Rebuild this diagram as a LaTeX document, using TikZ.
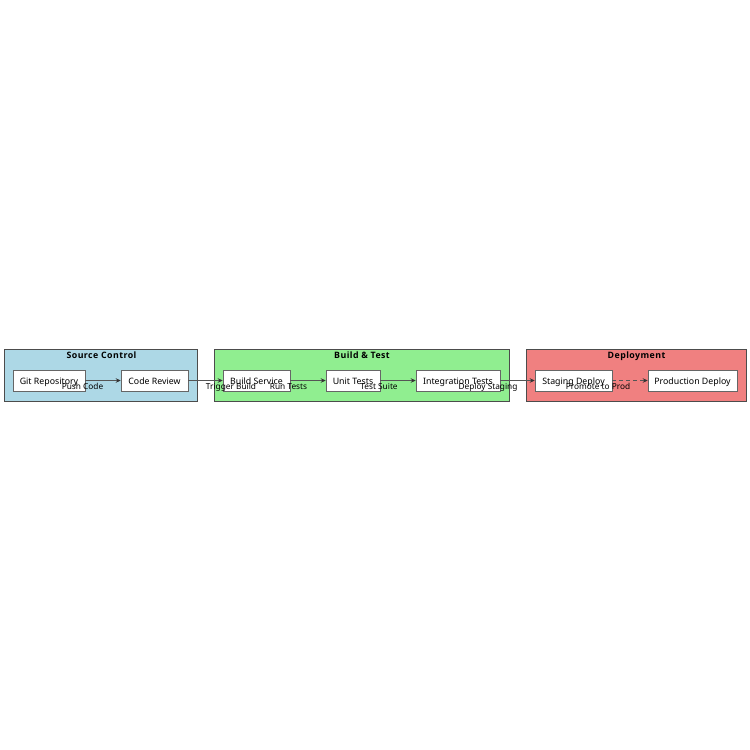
\documentclass[tikz,border=0pt]{standalone}
\usepackage{fontspec}
\setmainfont{Noto Sans}
\newfontfamily\titlefont[LetterSpace=5]{Open Sans}
\usetikzlibrary{arrows.meta}
\definecolor{scfill}{HTML}{ADD8E6}
\definecolor{btfill}{HTML}{90EE90}
\definecolor{dpfill}{HTML}{F08080}
\definecolor{edgec}{HTML}{555555}
\begin{document}
\begin{tikzpicture}[x=1pt,y=-1pt,
  cluster/.style={draw=black!70,line width=0.6pt},
  ctitle/.style={font=\titlefont\bfseries\fontsize{8.8}{10}\selectfont,inner sep=0pt},
  proc/.style={draw=black!60,fill=white,line width=0.5pt,minimum height=21pt,inner sep=0pt},
  ptext/.style={font=\fontsize{8.8}{10}\selectfont,inner sep=0pt,anchor=base},
  elabel/.style={font=\fontsize{8.3}{9}\selectfont,inner sep=0pt,anchor=base},
  conn/.style={draw=edgec,line width=0.8pt,-{Stealth[length=5pt,width=4.5pt,black!80]}}]
\useasboundingbox (0,0) rectangle (750,750);
\fill[white] (0,0) rectangle (750,750);
% clusters
\draw[cluster,fill=scfill] (4,349) rectangle (197,401);
\draw[cluster,fill=btfill] (214,349) rectangle (509,401);
\draw[cluster,fill=dpfill] (526,349) rectangle (746,401);
\node[ctitle,anchor=base] (tsc) at (101.5,358) {Source Control};
\node[ctitle,anchor=base] (tbt) at (362,358) {Build \& Test};
\node[ctitle,anchor=base] (tdp) at (636.5,358) {Deployment};
% nodes
\node[proc,minimum width=72pt] (git) at (49,380.5) {};
\node[proc,minimum width=67pt] (cr) at (154.5,380.5) {};
\node[proc,minimum width=67pt] (bs) at (256.5,380.5) {};
\node[proc,minimum width=54pt] (ut) at (353,380.5) {};
\node[proc,minimum width=84pt] (it) at (458,380.5) {};
\node[proc,minimum width=77pt] (sd) at (573.5,380.5) {};
\node[proc,minimum width=89pt] (pd) at (692.5,380.5) {};
\node[ptext] (gitt) at ([yshift=-3.5pt]git.center) {Git Repository};
\node[ptext] (crt) at ([yshift=-3.5pt]cr.center) {Code Review};
\node[ptext] (bst) at ([yshift=-3.5pt]bs.center) {Build Service};
\node[ptext] (utt) at ([yshift=-3.5pt]ut.center) {Unit Tests};
\node[ptext] (itt) at ([yshift=-3.5pt]it.center) {Integration Tests};
\node[ptext] (sdt) at ([yshift=-3.5pt]sd.center) {Staging Deploy};
\node[ptext] (pdt) at ([yshift=-3.5pt]pd.center) {Production Deploy};
% edges
\draw[conn] (git) -- (cr);
\draw[conn] (cr) -- (bs);
\draw[conn] (bs) -- (ut);
\draw[conn] (ut) -- (it);
\draw[conn] (it) -- (sd);
\draw[conn,dashed,dash pattern=on 4pt off 3pt] (sd) -- (pd);
% edge labels
\node[elabel] (l1) at (82.5,389) {Push Code};
\node[elabel] (l2) at (231,389) {Trigger Build};
\node[elabel] (l3) at (288.5,389) {Run Tests};
\node[elabel] (l4) at (379,389) {Test Suite};
\node[elabel] (l5) at (488,389) {Deploy Staging};
\node[elabel] (l6) at (598,389) {Promote to Prod};
\end{tikzpicture}
\end{document}
